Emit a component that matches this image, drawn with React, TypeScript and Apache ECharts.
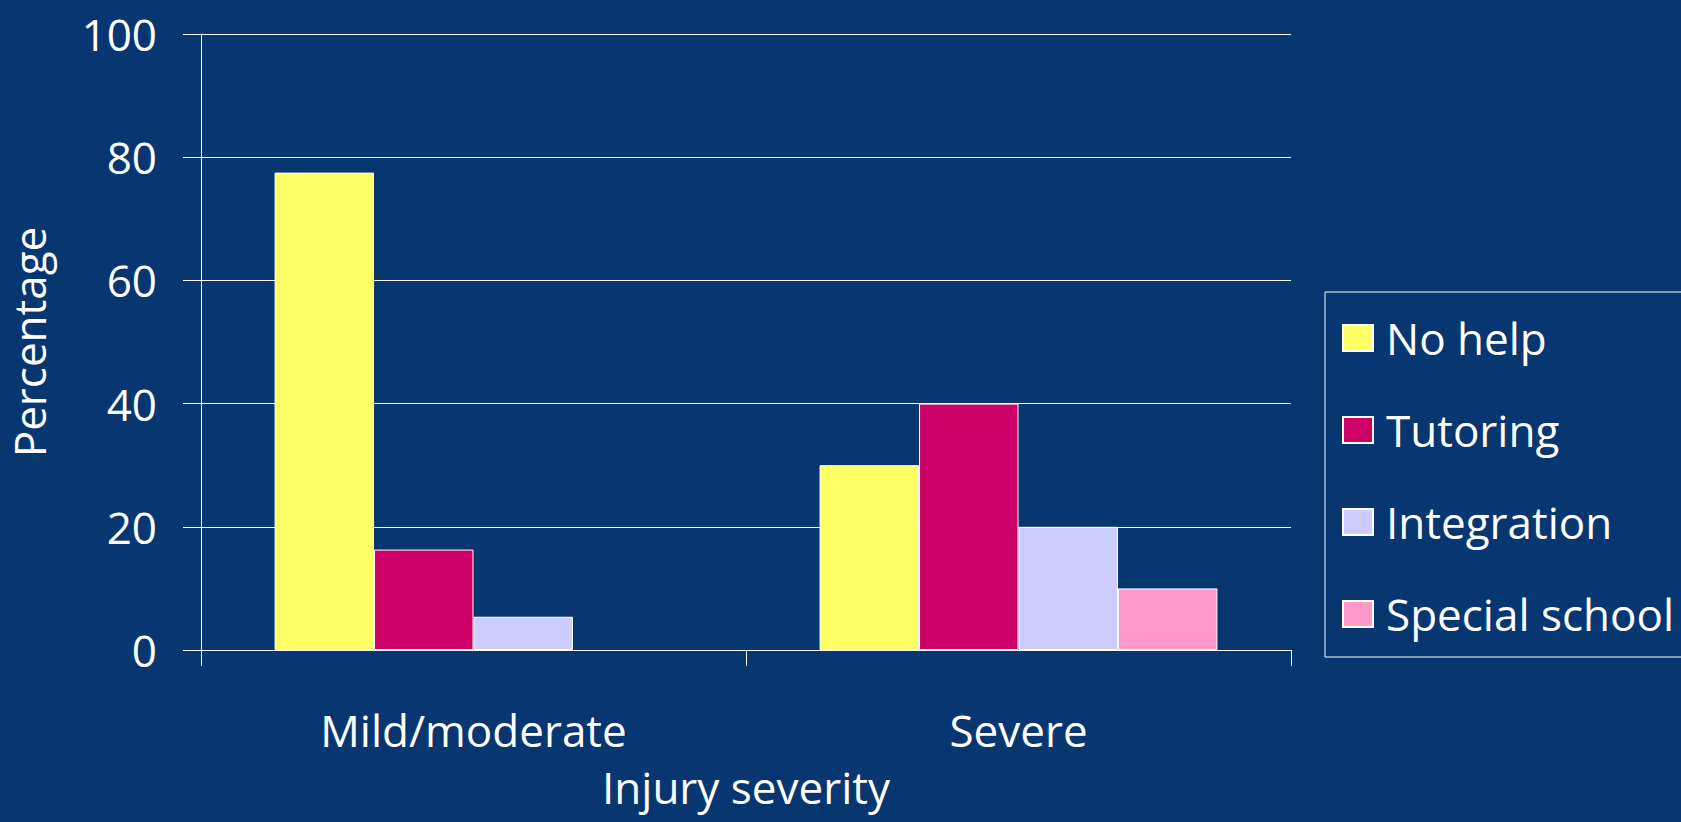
import React, { useEffect, useRef } from "react";
import * as echarts from "echarts";

const categories = ["Mild/moderate", "Severe"];
const seriesNames = ["No help", "Tutoring", "Integration", "Special school"];
const noHelp = [77.5, 30];
const tutoring = [16.3, 40];
const integration = [5.4, 20];
const specialSchool = [null, 10];
const seriesColors = ["#FFFF66", "#CC0066", "#CCCCFF", "#FF99CC"];
const yTicks = { min: 0, max: 100, interval: 20 };

const FONT = "Open Sans";
const BG = "#083671";

export default function App() {
  const ref = useRef<HTMLDivElement>(null);
  useEffect(() => {
    document.body.style.margin = "0";
    const chart = echarts.init(ref.current!, null, { renderer: "svg" });
    const values = [noHelp, tutoring, integration, specialSchool];
    chart.setOption({
      animation: false,
      backgroundColor: BG,
      textStyle: { fontFamily: FONT },
      grid: {
        left: 201,
        right: 390,
        top: 34,
        bottom: 172,
        containLabel: false,
        outerBoundsMode: "none",
      },
      legend: {
        orient: "vertical",
        left: 1325,
        top: 292,
        icon: "rect",
        itemWidth: 30,
        itemHeight: 26,
        itemGap: 48,
        padding: [24, 20, 21, 17],
        borderColor: "#ffffff",
        borderWidth: 1,
        textStyle: { color: "#ffffff", fontSize: 44, fontFamily: FONT, padding: [0, 0, 0, 8] },
        data: seriesNames,
      },
      xAxis: {
        type: "category",
        data: categories,
        name: "Injury severity",
        nameLocation: "middle",
        nameGap: 120,
        nameTextStyle: { color: "#ffffff", fontSize: 44, fontFamily: FONT, lineHeight: 34 },
        axisLine: { lineStyle: { color: "#ffffff", width: 1 } },
        axisTick: { show: true, length: 16, lineStyle: { color: "#ffffff" } },
        axisLabel: { color: "#ffffff", fontSize: 44, fontFamily: FONT, margin: 58 },
      },
      yAxis: {
        type: "value",
        min: yTicks.min,
        max: yTicks.max,
        interval: yTicks.interval,
        name: "Percentage",
        nameLocation: "middle",
        nameGap: 150,
        nameRotate: 90,
        nameTextStyle: { color: "#ffffff", fontSize: 44, fontFamily: FONT },
        axisLine: { show: true, lineStyle: { color: "#ffffff", width: 1 } },
        axisTick: { show: true, length: 18, lineStyle: { color: "#ffffff" } },
        axisLabel: { color: "#ffffff", fontSize: 44, fontFamily: FONT, margin: 44 },
        splitLine: { show: true, lineStyle: { color: "#ffffff", width: 1 } },
      },
      series: seriesNames.map((name, i) => ({
        name,
        type: "bar",
        data: values[i],
        barGap: "0%",
        barCategoryGap: "27%",
        itemStyle: { color: seriesColors[i], borderColor: "#ffffff", borderWidth: 1 },
      })),
    });
    return () => chart.dispose();
  }, []);
  return (
    <div
      ref={ref}
      style={{ position: "fixed", left: 0, top: 0, width: 1681, height: 822 }}
    />
  );
}
